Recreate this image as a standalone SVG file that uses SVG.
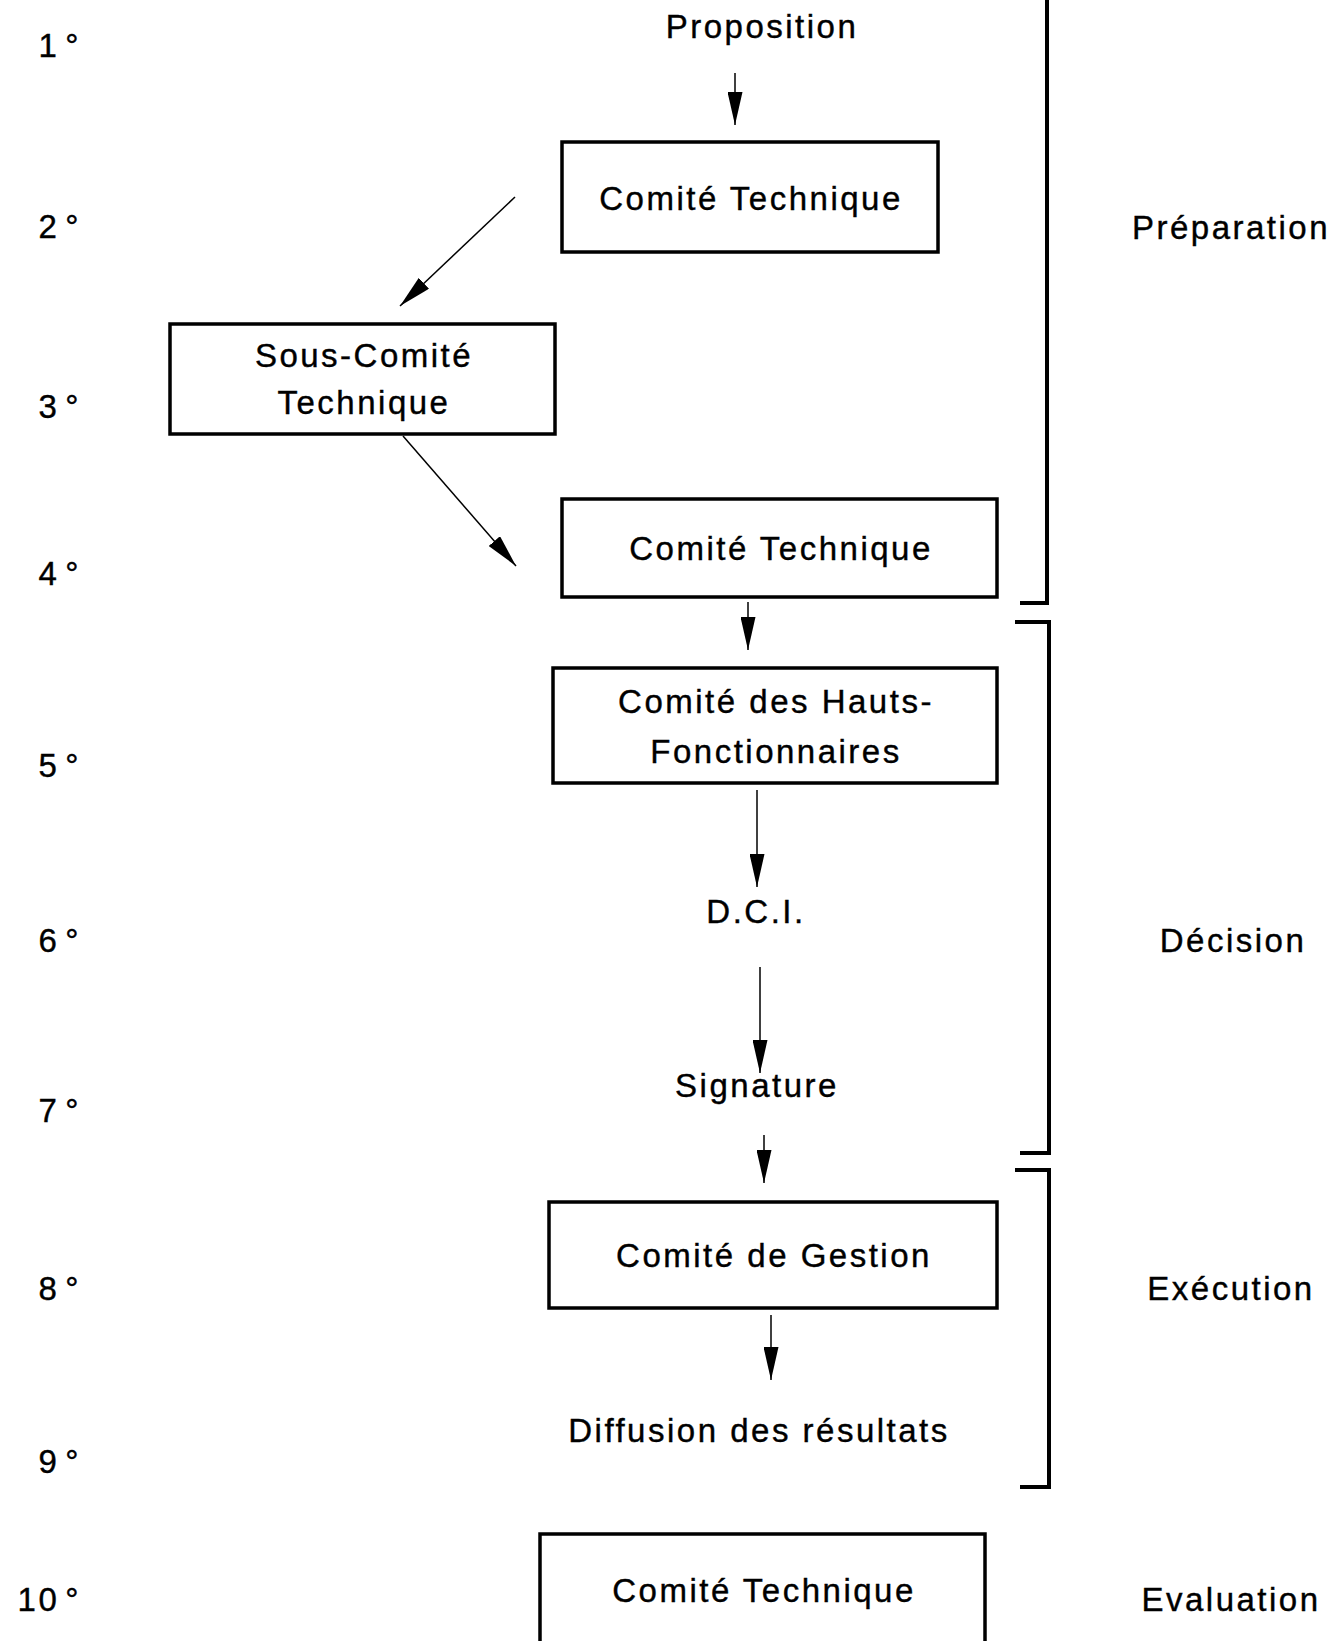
<svg xmlns="http://www.w3.org/2000/svg" width="1332" height="1641" viewBox="0 0 1332 1641">
<defs>
<style>
text{font-family:"Liberation Sans",Arial,sans-serif;font-size:33px;letter-spacing:2.5px;fill:#000;stroke:#000;stroke-width:0.4}
.c{text-anchor:middle}
.e{text-anchor:end}
.box{fill:#fff;stroke:#000;stroke-width:3.5}
.arr{fill:none;stroke:#000;stroke-width:1.5;marker-end:url(#ah)}
.br{fill:none;stroke:#000;stroke-width:4;stroke-linejoin:miter}
</style>
<marker id="ah" markerUnits="userSpaceOnUse" viewBox="0 0 33 15" refX="33" refY="7.5" markerWidth="33" markerHeight="15" orient="auto">
<path d="M0,0 L33,7.5 L0,15 z" fill="#000"/>
</marker>
</defs>
<rect width="1332" height="1641" fill="#fff"/>

<g id="steps">
<text class="e" x="81" y="57">1<tspan dx="6">°</tspan></text>
<text class="e" x="81" y="238">2<tspan dx="6">°</tspan></text>
<text class="e" x="81" y="418">3<tspan dx="6">°</tspan></text>
<text class="e" x="81" y="585">4<tspan dx="6">°</tspan></text>
<text class="e" x="81" y="777">5<tspan dx="6">°</tspan></text>
<text class="e" x="81" y="952">6<tspan dx="6">°</tspan></text>
<text class="e" x="81" y="1122">7<tspan dx="6">°</tspan></text>
<text class="e" x="81" y="1300">8<tspan dx="6">°</tspan></text>
<text class="e" x="81" y="1473">9<tspan dx="6">°</tspan></text>
<text class="e" x="81" y="1611">10<tspan dx="6">°</tspan></text>
</g>

<g id="phases">
<text class="c" x="1231" y="239">Préparation</text>
<text class="c" x="1233" y="952">Décision</text>
<text class="c" x="1231" y="1300">Exécution</text>
<text class="c" x="1231" y="1611">Evaluation</text>
</g>

<g id="brackets">
<path class="br" d="M1047,0 V603 H1020"/>
<path class="br" d="M1015,622 H1049 V1153 H1020"/>
<path class="br" d="M1015,1170 H1049 V1487 H1020"/>
</g>

<g id="n-proposition">
<text class="c" x="762" y="38">Proposition</text>
</g>

<g id="n-comite-technique-1">
<rect class="box" x="562" y="142" width="376" height="110"/>
<text class="c" x="751" y="210">Comité Technique</text>
</g>

<g id="n-sous-comite">
<rect class="box" x="170" y="324" width="385" height="110"/>
<text class="c" x="364" y="367">Sous-Comité</text>
<text class="c" x="364" y="414">Technique</text>
</g>

<g id="n-comite-technique-2">
<rect class="box" x="562" y="499" width="435" height="98"/>
<text class="c" x="781" y="560">Comité Technique</text>
</g>

<g id="n-hauts-fonctionnaires">
<rect class="box" x="553" y="668" width="444" height="115"/>
<text class="c" x="776" y="713">Comité des Hauts-</text>
<text class="c" x="776" y="763">Fonctionnaires</text>
</g>

<g id="n-dci">
<text class="c" x="756" y="923">D.C.I.</text>
</g>

<g id="n-signature">
<text class="c" x="757" y="1097">Signature</text>
</g>

<g id="n-comite-gestion">
<rect class="box" x="549" y="1202" width="448" height="106"/>
<text class="c" x="774" y="1267">Comité de Gestion</text>
</g>

<g id="n-diffusion">
<text class="c" x="759" y="1442">Diffusion des résultats</text>
</g>

<g id="n-comite-technique-3">
<rect class="box" x="540" y="1534" width="445" height="120"/>
<text class="c" x="764" y="1602">Comité Technique</text>
</g>

<g id="connectors">
<line class="arr" x1="735" y1="73" x2="735" y2="125"/>
<line class="arr" x1="515" y1="197" x2="400" y2="306"/>
<line class="arr" x1="403" y1="436" x2="516" y2="566"/>
<line class="arr" x1="748" y1="602" x2="748" y2="650"/>
<line class="arr" x1="757" y1="790" x2="757" y2="887"/>
<line class="arr" x1="760" y1="967" x2="760" y2="1073"/>
<line class="arr" x1="764" y1="1135" x2="764" y2="1183"/>
<line class="arr" x1="771" y1="1315" x2="771" y2="1380"/>
</g>
</svg>
